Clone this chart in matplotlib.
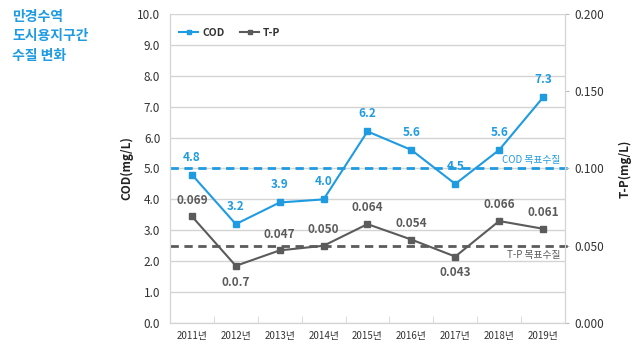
import matplotlib
matplotlib.use("Agg")
import matplotlib.pyplot as plt
import numpy as np

plt.rcParams['font.family'] = ['Noto Sans CJK KR', 'DejaVu Sans']

years = ['2011년', '2012년', '2013년', '2014년', '2015년', '2016년', '2017년', '2018년', '2019년']
cod = [4.8, 3.2, 3.9, 4.0, 6.2, 5.6, 4.5, 5.6, 7.3]
cod_labels = ['4.8', '3.2', '3.9', '4.0', '6.2', '5.6', '4.5', '5.6', '7.3']
tp = [0.069, 0.037, 0.047, 0.050, 0.064, 0.054, 0.043, 0.066, 0.061]
tp_labels = ['0.069', '0.0.7', '0.047', '0.050', '0.064', '0.054', '0.043', '0.066', '0.061']
cod_target = 5.0
tp_target = 0.050
left_ticks = [0.0, 1.0, 2.0, 3.0, 4.0, 5.0, 6.0, 7.0, 8.0, 9.0, 10.0]
right_ticks = [0.000, 0.050, 0.100, 0.150, 0.200]

BLUE = '#1f9be1'
GRAY = '#5b5b5b'
GRID = '#d4d4d4'

fig = plt.figure(figsize=(6.4, 3.49), dpi=100)
ax = fig.add_axes([0.2656, 0.0745, 0.6172, 0.8854])
ax2 = ax.twinx()

x = np.arange(len(years))
ax.set_xlim(-0.5, len(years) - 0.5)
ax.set_ylim(0, 10)
ax2.set_ylim(0, 0.2)

ax.set_yticks(left_ticks)
ax.set_yticklabels([f'{v:.1f}' for v in left_ticks], fontsize=8.5, color='#333333')
ax.tick_params(axis='y', length=0, pad=7)
ax.yaxis.grid(True, color=GRID, linewidth=1)
ax.set_axisbelow(True)

ax.set_xticks(x)
ax.set_xticklabels(years, fontsize=7, color='#333333')
ax.tick_params(axis='x', length=0, pad=6)
ax.set_xticks(np.arange(0.5, len(years) - 0.5, 1), minor=True)
ax.tick_params(axis='x', which='minor', direction='in', length=5, color=GRID)

ax2.set_yticks(right_ticks)
ax2.set_yticklabels([f'{v:.3f}' for v in right_ticks], fontsize=8.5, color='#333333')
ax2.tick_params(axis='y', length=3, color='#bbbbbb', pad=4)

for a in (ax, ax2):
    for s in ('left', 'right', 'bottom'):
        a.spines[s].set_color(GRID)
    a.spines['top'].set_visible(False)

ax.set_ylabel('COD(mg/L)', fontsize=8.5, fontweight='bold', color='#222222', labelpad=3)
ax2.set_ylabel('T-P(mg/L)', fontsize=8.5, fontweight='bold', color='#222222', rotation=90, labelpad=10)

# target lines
ax.plot([-0.5, 8.65], [cod_target, cod_target], ls=(0, (3, 2)), color=BLUE, lw=2, clip_on=False, zorder=2)
ax2.plot([-0.5, 8.65], [tp_target, tp_target], ls=(0, (3, 2)), color=GRAY, lw=2, clip_on=False, zorder=2)
ax.text(8.4, cod_target + 0.12, 'COD 목표수질', color=BLUE, fontsize=7, ha='right', va='bottom')
ax2.text(8.4, tp_target - 0.0025, 'T-P 목표수질', color=GRAY, fontsize=7, ha='right', va='top')

l1, = ax.plot(x, cod, color=BLUE, lw=1.5, marker='s', ms=4.5, zorder=4, label='COD')
l2, = ax2.plot(x, tp, color=GRAY, lw=1.5, marker='s', ms=4.5, zorder=4, label='T-P')

for xi, v, t in zip(x, cod, cod_labels):
    ax.annotate(t, (xi, v), xytext=(0, 8), textcoords='offset points', ha='center', va='bottom',
                fontsize=8.5, fontweight='bold', color=BLUE)
for i, (xi, v, t) in enumerate(zip(x, tp, tp_labels)):
    if i in (1, 6):
        ax2.annotate(t, (xi, v), xytext=(0, -7), textcoords='offset points', ha='center', va='top',
                     fontsize=8.5, fontweight='bold', color=GRAY)
    else:
        ax2.annotate(t, (xi, v), xytext=(0, 7), textcoords='offset points', ha='center', va='bottom',
                     fontsize=8.5, fontweight='bold', color=GRAY)

leg = ax.legend(handles=[l1, l2], loc='upper left', ncol=2, frameon=False, fontsize=7.5,
                handlelength=1.8, columnspacing=1.5, handletextpad=0.4,
                bbox_to_anchor=(0.0, 0.985), markerscale=0.7)
for t in leg.get_texts():
    t.set_fontweight('bold')
    t.set_color('#333333')

fig.text(0.019, 0.972, '만경수역\n도시용지구간\n수질 변화', color=BLUE, fontsize=10, fontweight='bold',
         ha='left', va='top', linespacing=1.5)

fig.savefig('out.png', dpi=100)
